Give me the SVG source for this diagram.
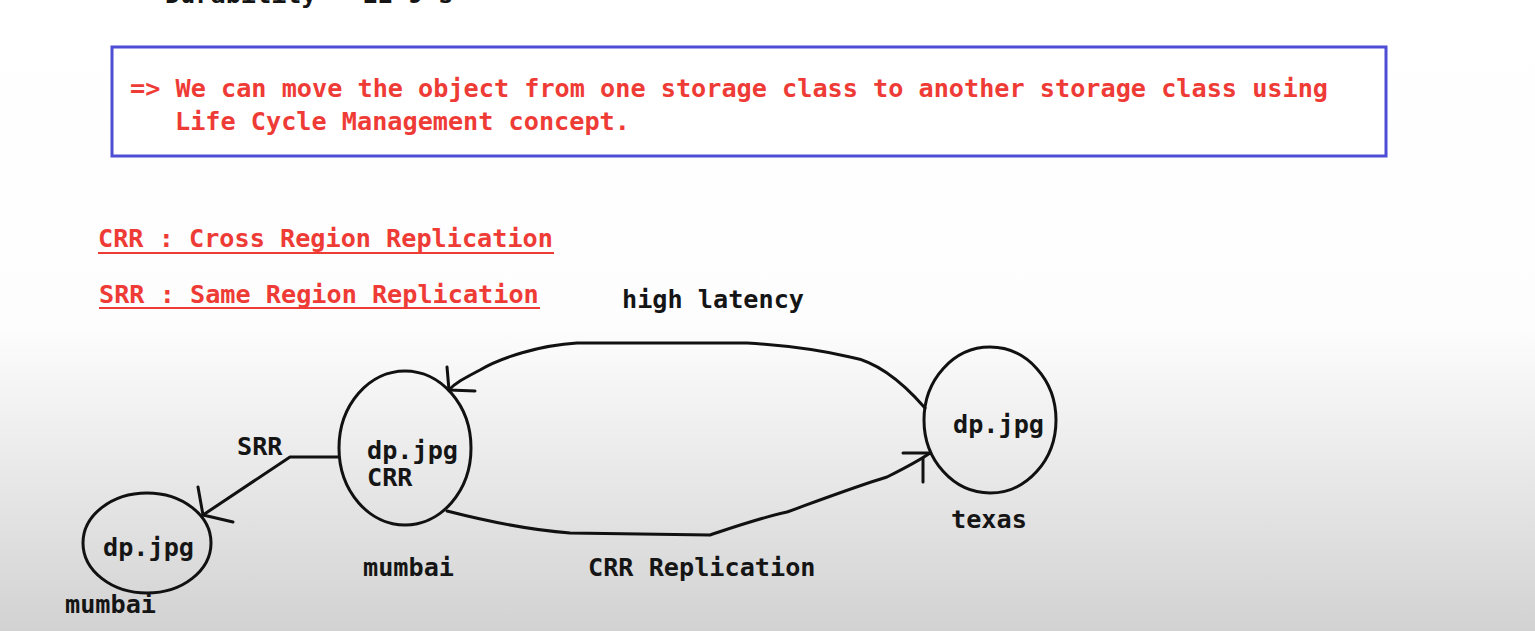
<svg xmlns="http://www.w3.org/2000/svg" width="1535" height="631" viewBox="0 0 1535 631">
<defs>
<linearGradient id="bg" x1="0" y1="0" x2="0" y2="631" gradientUnits="userSpaceOnUse">
<stop offset="0" stop-color="#ffffff"/>
<stop offset="0.52" stop-color="#fdfdfd"/>
<stop offset="1" stop-color="#d2d2d2"/>
</linearGradient>
<style>
.t{font-family:"DejaVu Sans Mono","Liberation Mono",monospace;font-weight:bold;font-size:25.2px;fill:#151515}
.r{fill:#ef3b36}
.ln{fill:none;stroke:#111;stroke-width:3;stroke-linejoin:round;stroke-linecap:round}
.nd{fill:none;stroke:#111;stroke-width:3}
.ul{stroke:#ef3b36;stroke-width:2}
</style>
</defs>
<rect x="0" y="0" width="1535" height="631" fill="url(#bg)"/>
<text class="t" x="165" y="3">Durability - 11 9's</text>
<g id="note">
<rect x="112" y="47" width="1274" height="109" fill="#ffffff" stroke="#4d4dd6" stroke-width="3"/>
<text class="t r" x="130" y="97">=&gt; We can move the object from one storage class to another storage class using</text>
<text class="t r" x="175" y="130">Life Cycle Management concept.</text>
</g>
<g id="legend">
<text class="t r" x="98" y="247">CRR : Cross Region Replication</text>
<line class="ul" x1="98" y1="253" x2="554" y2="253"/>
<text class="t r" x="99" y="303">SRR : Same Region Replication</text>
<line class="ul" x1="99" y1="308" x2="540" y2="308"/>
</g>
<g id="connectors">
<polyline class="ln" points="339,457 290,457 203,515"/>
<polyline class="ln" points="198,487 203,515 233,522"/>
<text class="t" x="237" y="455">SRR</text>
<path class="ln" d="M925,408 C905,385 880,362 850,357 C820,350 780,345 747,343 L577,343 C540,345 500,358 480,370 C465,378 455,383 449,390"/>
<polyline class="ln" points="447,367 449,390 475,391"/>
<text class="t" x="622" y="308">high latency</text>
<path class="ln" d="M447,511 C490,522 530,530 570,533 L710,535 C740,525 760,518 787,512 C820,500 860,485 887,477 C905,468 920,460 930,453"/>
<polyline class="ln" points="903,453 930,453"/>
<line class="ln" x1="923" y1="458" x2="923" y2="482"/>
<text class="t" x="588" y="576">CRR Replication</text>
</g>
<g id="node-mumbai-srr">
<ellipse class="nd" cx="147" cy="543" rx="64" ry="50"/>
<text class="t" x="103" y="556">dp.jpg</text>
<text class="t" x="65" y="613">mumbai</text>
</g>
<g id="node-mumbai">
<ellipse class="nd" cx="405" cy="448" rx="66" ry="77"/>
<text class="t" x="367" y="459">dp.jpg</text>
<text class="t" x="367" y="486">CRR</text>
<text class="t" x="363" y="576">mumbai</text>
</g>
<g id="node-texas">
<ellipse class="nd" cx="990" cy="420" rx="66" ry="73"/>
<text class="t" x="953" y="433">dp.jpg</text>
<text class="t" x="951" y="528">texas</text>
</g>
</svg>
